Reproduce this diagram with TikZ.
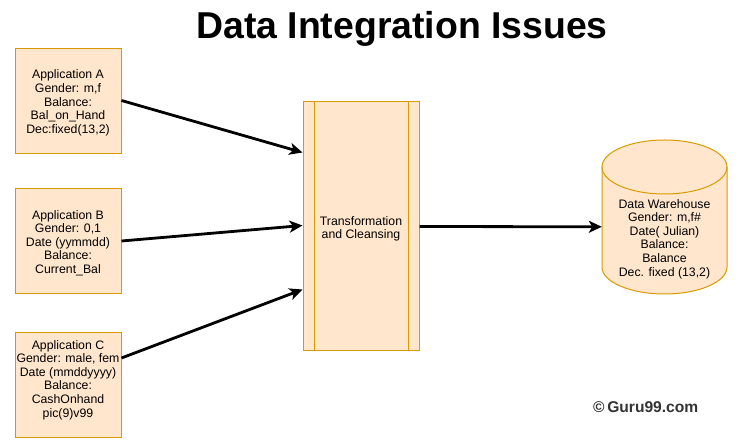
\documentclass[tikz,border=0pt]{standalone}
\usepackage{fontspec}
\setmainfont{Liberation Sans}
\usetikzlibrary{arrows.meta,calc}
\definecolor{boxfill}{HTML}{FFE6CC}
\definecolor{boxline}{HTML}{D79B00}
\definecolor{markgray}{HTML}{333333}
\tikzset{
  appbox/.style={draw=boxline, fill=boxfill, line width=1pt, minimum width=106pt, minimum height=105pt, inner sep=0pt},
  lbl/.style={align=center, font=\fontsize{12.3}{13.6}\selectfont, inner sep=0pt},
  conn/.style={line width=2.8pt, -{Stealth[length=13pt,width=12pt,inset=3.5pt]}},
}
\begin{document}
\begin{tikzpicture}[x=1pt,y=-1pt]
\useasboundingbox (0,0) rectangle (740,443);
% title
\node[anchor=base, font=\fontsize{37.4}{40}\selectfont\bfseries, inner sep=0pt] (title) at (402,39) {Data Integration Issues};
% application boxes
\node[appbox] (A) at (68,101.5) {};
\node[lbl] (Atxt) at (68,103) {Application A\\Gender: m,f\\Balance:\\Bal\_on\_Hand\\Dec:fixed(13,2)};
\node[appbox] (B) at (68,241) {};
\node[lbl] (Btxt) at (68,243) {Application B\\Gender: 0,1\\Date (yymmdd)\\Balance:\\Current\_Bal};
\node[appbox] (C) at (68,385) {};
\node[lbl] (Ctxt) at (68,380) {Application C\\Gender: male, fem\\Date (mmddyyyy)\\Balance:\\CashOnhand\\pic(9)v99};
% transformation
\node[appbox, minimum width=116pt, minimum height=249pt] (T) at (361,226.5) {};
\draw[boxline, line width=1pt] ($(T.north west)+(12,0)$) -- ($(T.south west)+(12,0)$);
\draw[boxline, line width=1pt] ($(T.north east)+(-11,0)$) -- ($(T.south east)+(-11,0)$);
\node[lbl] (Ttxt) at (361,229) {Transformation\\and Cleansing};
% data warehouse cylinder
\node[minimum width=125pt, minimum height=154pt, inner sep=0pt] (D) at (664.5,217) {};
\fill[boxfill] (602,167) rectangle (727,267);
\fill[boxfill] (664.5,167) ellipse [x radius=62.5, y radius=27];
\fill[boxfill] (664.5,267) ellipse [x radius=62.5, y radius=27];
\draw[boxline, line width=1pt] (664.5,167) ellipse [x radius=62.5, y radius=27];
\draw[boxline, line width=1pt] (602,167) -- (602,267) arc[start angle=180, end angle=0, x radius=62.5, y radius=27] -- (727,167);
\node[lbl] (Dtxt) at (664.5,239) {Data Warehouse\\Gender: m,f\#\\Date( Julian)\\Balance:\\Balance\\Dec. fixed (13,2)};
% connectors
\coordinate (tA) at ($(T.north west)+(0,51)$);
\coordinate (tB) at ($(T.north west)+(0,124)$);
\coordinate (tC) at ($(T.north west)+(0,188)$);
\coordinate (cA) at ($(A.north east)+(0,52)$);
\coordinate (cC) at ($(C.north east)+(0,26)$);
\coordinate (tOut) at ($(T.north east)+(0,125)$);
\coordinate (dIn) at ($(D.north west)+(0,87)$);
\draw[conn] (cA) -- (tA);
\draw[conn] (B.east) -- (tB);
\draw[conn] (cC) -- (tC);
\draw[conn] (tOut) -- (dIn);
% mark
\node[anchor=base west, font=\fontsize{15.6}{18}\selectfont\bfseries, text=markgray, inner sep=0pt] (mark) at (593,413) {©\,Guru99.com};
\end{tikzpicture}
\end{document}
